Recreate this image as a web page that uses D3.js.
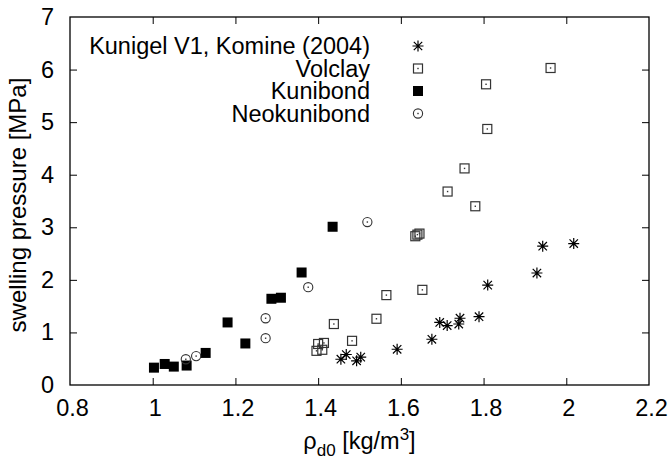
<!DOCTYPE html>
<html>
<head>
<meta charset="utf-8">
<script src="https://cdn.jsdelivr.net/npm/d3@7"></script>
<style>
  html, body { margin: 0; padding: 0; background: #fff; }
  svg { display: block; font-family: "Liberation Sans", Arial, sans-serif; }
</style>
</head>
<body>
<svg id="chart" width="669" height="462"></svg>
<script>
// ---- data ----
const seriesNames = ["Kunigel V1, Komine (2004)", "Volclay", "Kunibond", "Neokunibond"];

const kunigelX = [1.455, 1.468, 1.493, 1.503, 1.591, 1.675, 1.694, 1.712, 1.740, 1.743, 1.789, 1.810, 1.929, 1.943, 2.018];
const kunigelY = [0.49, 0.58, 0.46, 0.53, 0.68, 0.87, 1.19, 1.13, 1.16, 1.27, 1.30, 1.90, 2.13, 2.64, 2.69];

const volclayX = [1.396, 1.400, 1.410, 1.414, 1.438, 1.482, 1.541, 1.565, 1.635, 1.640, 1.645, 1.652, 1.713, 1.754, 1.780, 1.806, 1.809, 1.962];
const volclayY = [0.65, 0.78, 0.67, 0.80, 1.16, 0.84, 1.26, 1.71, 2.83, 2.86, 2.88, 1.81, 3.68, 4.12, 3.40, 5.72, 4.87, 6.03];

const kunibondX = [1.003, 1.029, 1.051, 1.082, 1.128, 1.181, 1.224, 1.287, 1.310, 1.360, 1.435];
const kunibondY = [0.33, 0.40, 0.35, 0.37, 0.61, 1.19, 0.79, 1.64, 1.66, 2.14, 3.01];

const neoX = [1.080, 1.105, 1.273, 1.273, 1.376, 1.519];
const neoY = [0.49, 0.55, 1.27, 0.89, 1.86, 3.10];

const xTicks = [0.8, 1.0, 1.2, 1.4, 1.6, 1.8, 2.0, 2.2];
const yTicks = [0, 1, 2, 3, 4, 5, 6, 7];

// ---- layout ----
const svg = d3.select("#chart");
const L = 70, R = 649, T = 17, B = 385;
const x = d3.scaleLinear().domain([0.8, 2.2]).range([L, R]);
const y = d3.scaleLinear().domain([0, 7]).range([B, T]);
const FS = 23.5;
const tickLen = 7;

// axes with mirrored inward ticks
const fmtX = d => (d === 1 || d === 2) ? String(d) : d3.format(".1f")(d);
const gB = svg.append("g").attr("transform", `translate(2,${B})`)
  .call(d3.axisBottom(x).tickValues(xTicks).tickSize(-tickLen).tickPadding(14).tickFormat(fmtX));
const gT = svg.append("g").attr("transform", `translate(0,${T})`)
  .call(d3.axisTop(x).tickValues(xTicks).tickSize(-tickLen).tickFormat(""));
const gL = svg.append("g").attr("transform", `translate(${L},0)`)
  .call(d3.axisLeft(y).tickValues(yTicks).tickSize(-tickLen).tickPadding(16).tickFormat(d3.format("d")));
const gR = svg.append("g").attr("transform", `translate(${R},0)`)
  .call(d3.axisRight(y).tickValues(yTicks).tickSize(-tickLen).tickFormat(""));

[gB, gT, gL, gR].forEach(g => {
  g.select(".domain").remove();
  g.selectAll(".tick line").attr("stroke", "#000").attr("stroke-width", 1);
  g.selectAll(".tick text").attr("font-size", FS).attr("fill", "#000")
    .attr("font-family", "'Liberation Sans', Arial, sans-serif");
});
// bottom tick lines drawn at true position (group shifted by 2 for labels)
gB.selectAll(".tick line").attr("transform", "translate(-2,0)");
// remove end ticks that sit on the border
gB.selectAll(".tick").filter(d => d === 0.8 || d === 2.2).select("line").remove();
gT.selectAll(".tick").filter(d => d === 0.8 || d === 2.2).select("line").remove();
gL.selectAll(".tick").filter(d => d === 0 || d === 7).select("line").remove();
gR.selectAll(".tick").filter(d => d === 0 || d === 7).select("line").remove();
gB.selectAll(".tick text").attr("dy", "0.71em");

// border
svg.append("rect").attr("x", L).attr("y", T).attr("width", R - L).attr("height", B - T)
  .attr("fill", "none").attr("stroke", "#000").attr("stroke-width", 1.3);

// axis titles
svg.append("text")
  .attr("transform", `translate(26,${(T + B) / 2 + 4}) rotate(-90)`)
  .attr("text-anchor", "middle").attr("font-size", 24).attr("fill", "#000")
  .text("swelling pressure [MPa]");

const xt = svg.append("text").attr("x", (L + R) / 2).attr("y", 449)
  .attr("text-anchor", "middle").attr("font-size", FS).attr("fill", "#000");
xt.append("tspan").text("ρ");
xt.append("tspan").attr("font-size", 17).attr("dy", 7).text("d0");
xt.append("tspan").attr("dy", -7).text(" [kg/m");
xt.append("tspan").attr("font-size", 17).attr("dy", -9).text("3");
xt.append("tspan").attr("dy", 9).text("]");

// ---- marker drawers ----
function drawAsterisk(g, cx, cy) {
  const s = 5.5, d = 4.2;
  const p = `M${cx - s},${cy}L${cx + s},${cy}M${cx},${cy - s}L${cx},${cy + s}` +
            `M${cx - d},${cy - d}L${cx + d},${cy + d}M${cx - d},${cy + d}L${cx + d},${cy - d}`;
  g.append("path").attr("d", p).attr("stroke", "#000").attr("stroke-width", 1.2).attr("fill", "none");
}
function drawOpenSquare(g, cx, cy) {
  const h = 4.5;
  g.append("rect").attr("x", cx - h).attr("y", cy - h).attr("width", 2 * h).attr("height", 2 * h)
    .attr("fill", "none").attr("stroke", "#333").attr("stroke-width", 1.2);
  g.append("rect").attr("x", cx - 0.7).attr("y", cy - 0.7).attr("width", 1.4).attr("height", 1.4).attr("fill", "#333");
}
function drawFilledSquare(g, cx, cy) {
  const h = 5;
  g.append("rect").attr("x", cx - h).attr("y", cy - h).attr("width", 2 * h).attr("height", 2 * h).attr("fill", "#000");
}
function drawCircle(g, cx, cy) {
  g.append("circle").attr("cx", cx).attr("cy", cy).attr("r", 4.6)
    .attr("fill", "none").attr("stroke", "#333").attr("stroke-width", 1.1);
  g.append("rect").attr("x", cx - 0.7).attr("y", cy - 0.7).attr("width", 1.4).attr("height", 1.4).attr("fill", "#333");
}

const marks = svg.append("g");
const series = [
  { xs: kunigelX, ys: kunigelY, draw: drawAsterisk },
  { xs: volclayX, ys: volclayY, draw: drawOpenSquare },
  { xs: kunibondX, ys: kunibondY, draw: drawFilledSquare },
  { xs: neoX, ys: neoY, draw: drawCircle }
];
series.forEach(s => {
  s.xs.forEach((v, i) => s.draw(marks, x(v), y(s.ys[i])));
});

// ---- legend ----
const leg = svg.append("g");
const legRows = [46, 68.5, 91, 113.5];
series.forEach((s, i) => {
  leg.append("text").attr("x", 370).attr("y", legRows[i] + 8)
    .attr("text-anchor", "end").attr("font-size", 23.5).attr("fill", "#000").text(seriesNames[i]);
  s.draw(leg, 418, legRows[i]);
});
</script>
</body>
</html>
